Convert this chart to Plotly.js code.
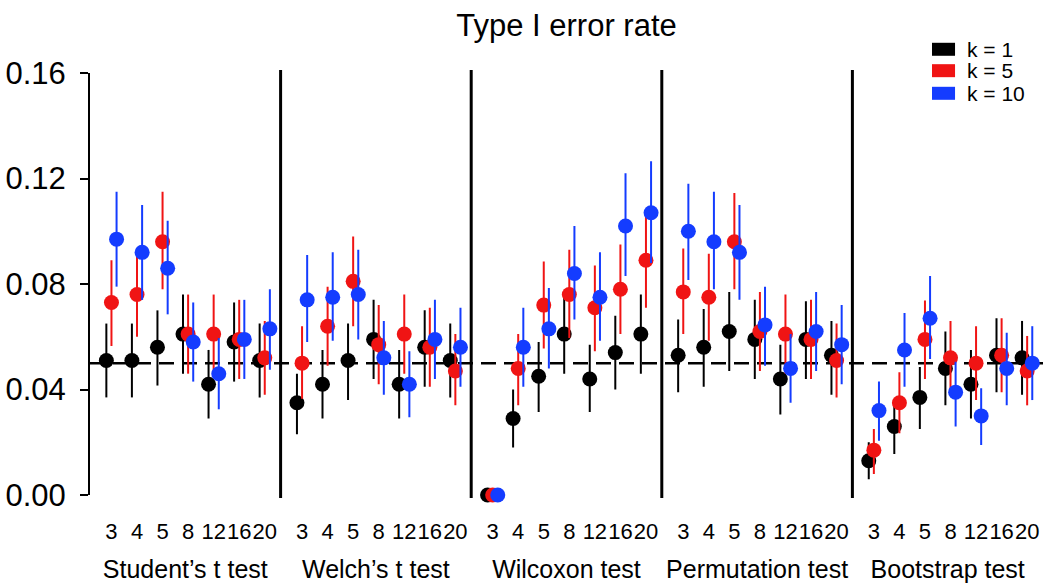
<!DOCTYPE html>
<html>
<head>
<meta charset="utf-8">
<script src="https://cdn.plot.ly/plotly-3.0.1.min.js"></script>
<style>html,body{margin:0;padding:0;background:#fff;}#chart{width:1046px;height:587px;}</style>
</head>
<body>
<div id="chart"></div>
<script>
// ---------------- data ----------------
const tests = ["Student\u2019s t test", "Welch\u2019s t test", "Wilcoxon test", "Permutation test", "Bootstrap test"];
const sampleSizes = ["3", "4", "5", "8", "12", "16", "20"];
const kLabels = ["k = 1", "k = 5", "k = 10"];
const nominalAlpha = 0.05;

// Student's t test
const studentK1   = [0.051, 0.051, 0.056, 0.061, 0.042, 0.058, 0.051];
const studentK1Lo = [0.037, 0.037, 0.0415, 0.046, 0.029, 0.043, 0.037];
const studentK1Hi = [0.065, 0.065, 0.070, 0.076, 0.055, 0.073, 0.065];
const studentK5   = [0.073, 0.076, 0.096, 0.061, 0.061, 0.059, 0.052];
const studentK5Lo = [0.0565, 0.060, 0.078, 0.046, 0.046, 0.044, 0.038];
const studentK5Hi = [0.089, 0.0925, 0.115, 0.076, 0.076, 0.074, 0.066];
const studentK10   = [0.097, 0.092, 0.086, 0.058, 0.046, 0.059, 0.063];
const studentK10Lo = [0.079, 0.074, 0.0685, 0.043, 0.0325, 0.044, 0.0475];
const studentK10Hi = [0.115, 0.110, 0.104, 0.073, 0.0595, 0.074, 0.078];

// Welch's t test
const welchK1   = [0.035, 0.042, 0.051, 0.059, 0.042, 0.056, 0.051];
const welchK1Lo = [0.023, 0.029, 0.036, 0.044, 0.029, 0.041, 0.037];
const welchK1Hi = [0.046, 0.055, 0.065, 0.074, 0.055, 0.070, 0.065];
const welchK5   = [0.050, 0.064, 0.081, 0.057, 0.061, 0.056, 0.047];
const welchK5Lo = [0.0365, 0.049, 0.064, 0.042, 0.046, 0.041, 0.034];
const welchK5Hi = [0.064, 0.079, 0.098, 0.072, 0.076, 0.071, 0.061];
const welchK10   = [0.074, 0.075, 0.076, 0.052, 0.042, 0.059, 0.056];
const welchK10Lo = [0.058, 0.0585, 0.059, 0.038, 0.0295, 0.044, 0.041];
const welchK10Hi = [0.091, 0.092, 0.093, 0.066, 0.0545, 0.074, 0.071];

// Wilcoxon test
const wilcoxonK1   = [0.000, 0.029, 0.045, 0.061, 0.044, 0.054, 0.061];
const wilcoxonK1Lo = [0.000, 0.018, 0.0315, 0.046, 0.0315, 0.040, 0.046];
const wilcoxonK1Hi = [0.000, 0.040, 0.058, 0.076, 0.057, 0.068, 0.076];
const wilcoxonK5   = [0.000, 0.048, 0.072, 0.076, 0.071, 0.078, 0.089];
const wilcoxonK5Lo = [0.000, 0.034, 0.0555, 0.0595, 0.0545, 0.061, 0.071];
const wilcoxonK5Hi = [0.000, 0.061, 0.0885, 0.093, 0.087, 0.095, 0.107];
const wilcoxonK10   = [0.000, 0.056, 0.063, 0.084, 0.075, 0.102, 0.107];
const wilcoxonK10Lo = [0.000, 0.041, 0.048, 0.0665, 0.0585, 0.083, 0.088];
const wilcoxonK10Hi = [0.000, 0.071, 0.0785, 0.102, 0.092, 0.122, 0.1265];

// Permutation test
const permK1   = [0.053, 0.056, 0.062, 0.059, 0.044, 0.059, 0.053];
const permK1Lo = [0.039, 0.041, 0.047, 0.044, 0.0305, 0.044, 0.038];
const permK1Hi = [0.0665, 0.0705, 0.077, 0.074, 0.057, 0.0735, 0.066];
const permK5   = [0.077, 0.075, 0.096, 0.062, 0.061, 0.059, 0.051];
const permK5Lo = [0.061, 0.0585, 0.078, 0.047, 0.046, 0.044, 0.037];
const permK5Hi = [0.0935, 0.0915, 0.1145, 0.077, 0.076, 0.074, 0.065];
const permK10   = [0.100, 0.096, 0.092, 0.0645, 0.048, 0.062, 0.057];
const permK10Lo = [0.0815, 0.078, 0.074, 0.049, 0.035, 0.047, 0.042];
const permK10Hi = [0.118, 0.115, 0.110, 0.079, 0.061, 0.077, 0.072];

// Bootstrap test
const bootK1   = [0.013, 0.026, 0.037, 0.048, 0.042, 0.053, 0.052];
const bootK1Lo = [0.006, 0.0155, 0.025, 0.034, 0.029, 0.039, 0.038];
const bootK1Hi = [0.020, 0.036, 0.0485, 0.062, 0.055, 0.067, 0.066];
const bootK5   = [0.017, 0.035, 0.059, 0.052, 0.050, 0.053, 0.047];
const bootK5Lo = [0.008, 0.0234, 0.044, 0.038, 0.036, 0.039, 0.034];
const bootK5Hi = [0.025, 0.0465, 0.0737, 0.066, 0.064, 0.067, 0.0603];
const bootK10   = [0.032, 0.055, 0.067, 0.039, 0.030, 0.048, 0.050];
const bootK10Lo = [0.0206, 0.041, 0.0516, 0.026, 0.019, 0.034, 0.036];
const bootK10Hi = [0.043, 0.069, 0.083, 0.0505, 0.0405, 0.0615, 0.064];

// ---------------- assembly ----------------
const panelData = [
  [[studentK1, studentK1Lo, studentK1Hi], [studentK5, studentK5Lo, studentK5Hi], [studentK10, studentK10Lo, studentK10Hi]],
  [[welchK1, welchK1Lo, welchK1Hi], [welchK5, welchK5Lo, welchK5Hi], [welchK10, welchK10Lo, welchK10Hi]],
  [[wilcoxonK1, wilcoxonK1Lo, wilcoxonK1Hi], [wilcoxonK5, wilcoxonK5Lo, wilcoxonK5Hi], [wilcoxonK10, wilcoxonK10Lo, wilcoxonK10Hi]],
  [[permK1, permK1Lo, permK1Hi], [permK5, permK5Lo, permK5Hi], [permK10, permK10Lo, permK10Hi]],
  [[bootK1, bootK1Lo, bootK1Hi], [bootK5, bootK5Lo, bootK5Hi], [bootK10, bootK10Lo, bootK10Hi]]
];

const colors = ["#000000", "#f01414", "#143cff"];
const kOffsets = [0, 0.2, 0.4];
const xRange = [-0.64, 6.82];
const FONT = "Liberation Sans, Arial, Helvetica, sans-serif";

const traces = [];
const layout = {
  width: 1046, height: 587,
  margin: {l: 90, r: 3, t: 73, b: 92, pad: 0},
  paper_bgcolor: "#ffffff", plot_bgcolor: "#ffffff",
  font: {family: FONT, color: "#000000"},
  showlegend: false,
  title: {text: "Type I error rate", font: {size: 31, family: FONT, color: "#000"},
          x: 0.5, xref: "paper", xanchor: "center", y: 0.957, yref: "container", yanchor: "middle"},
  yaxis: {
    range: [0, 0.16], tickvals: [0, 0.04, 0.08, 0.12, 0.16], tickformat: ".2f",
    showline: true, linewidth: 2, linecolor: "#000", ticks: "outside", ticklen: 8, tickwidth: 2, tickcolor: "#000",
    showgrid: false, zeroline: false, tickfont: {size: 31, family: FONT, color: "#000"},
    ticklabelstandoff: 8, fixedrange: true
  },
  shapes: [],
  annotations: []
};

const nP = tests.length;
tests.forEach((name, p) => {
  const ax = p === 0 ? "xaxis" : "xaxis" + (p + 1);
  const ref = p === 0 ? "x" : "x" + (p + 1);
  layout[ax] = {
    domain: [p / nP, (p + 1) / nP], anchor: "y", range: xRange,
    tickvals: sampleSizes.map((_, i) => i + kOffsets[1]), ticktext: sampleSizes,
    tickangle: 0, automargin: false,
    showline: false, showgrid: false, zeroline: false, ticks: "",
    tickfont: {size: 22, family: FONT, color: "#000"}, ticklabelstandoff: 21,
    title: {text: name, font: {size: 25, family: FONT, color: "#000"}, standoff: 17},
    fixedrange: true
  };
  panelData[p].forEach((series, k) => {
    const [v, lo, hi] = series;
    traces.push({
      type: "scatter", mode: "markers", name: kLabels[k],
      xaxis: ref, yaxis: "y",
      x: sampleSizes.map((_, i) => i + kOffsets[k]),
      y: v,
      error_y: {type: "data", symmetric: false,
                array: v.map((d, i) => hi[i] - d),
                arrayminus: v.map((d, i) => d - lo[i]),
                width: 0, thickness: 2, color: colors[k]},
      marker: {color: colors[k], size: 15, line: {width: 0}},
      cliponaxis: false, hoverinfo: "skip"
    });
  });
  if (p > 0) {
    layout.shapes.push({type: "line", xref: "paper", yref: "paper", x0: p / nP, x1: p / nP, y0: -0.007, y1: 1.007,
                        line: {color: "#000", width: 3}, layer: "below"});
  }
});

// nominal level reference line
layout.shapes.push({type: "line", xref: "paper", yref: "y", x0: 0, x1: 1, y0: nominalAlpha, y1: nominalAlpha,
                    line: {color: "#000", width: 2.5, dash: "15px,8px"}, layer: "below"});

// legend (boxes + labels)
const legX0 = 0.8835, legX1 = 0.9077, legTextX = 0.918;
const legY = [1.0562, 1.0055, 0.9519], legHalf = 0.0154;
kLabels.forEach((lab, k) => {
  layout.shapes.push({type: "rect", xref: "paper", yref: "paper", x0: legX0, x1: legX1,
                      y0: legY[k] - legHalf, y1: legY[k] + legHalf,
                      fillcolor: colors[k], line: {width: 0}});
  layout.annotations.push({xref: "paper", yref: "paper", x: legTextX, y: legY[k], text: lab,
                           showarrow: false, xanchor: "left", yanchor: "middle",
                           font: {size: 21, family: FONT, color: "#000"}});
});

Plotly.newPlot("chart", traces, layout, {staticPlot: true, displayModeBar: false});
</script>
</body>
</html>
